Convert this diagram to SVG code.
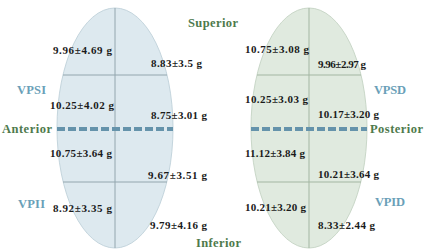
<svg xmlns="http://www.w3.org/2000/svg" width="425" height="252" viewBox="0 0 425 252">
<style>
.num{font-family:"Liberation Serif","DejaVu Serif",serif;font-weight:bold;font-size:11px;fill:#1a1a1a}
.dir{font-family:"Liberation Serif","DejaVu Serif",serif;font-weight:bold;font-size:12.5px;fill:#4e7a4c}
.reg{font-family:"Liberation Serif","DejaVu Serif",serif;font-weight:bold;font-size:12.5px;fill:#6a9fb8}
.divL{stroke:#93a6ae;stroke-width:1;fill:none}
.divR{stroke:#a3b6a2;stroke-width:1;fill:none}
.dash{stroke:#6593ab;stroke-width:4;stroke-dasharray:8 3;fill:none}
</style>
<rect width="425" height="252" fill="#ffffff"/>
<g id="left-heart">
<ellipse cx="115" cy="128" rx="58" ry="120" fill="#dde9ef" stroke="#c4d5dd" stroke-width="1"/>
<line class="divL" x1="115" y1="8" x2="115" y2="248"/>
<line class="divL" x1="63" y1="75" x2="167" y2="75"/>
<line class="divL" x1="63" y1="182" x2="167" y2="182"/>
</g>
<g id="right-heart">
<ellipse cx="309" cy="128" rx="58" ry="120" fill="#e0eadf" stroke="#c9d7c8" stroke-width="1"/>
<line class="divR" x1="309" y1="8" x2="309" y2="248"/>
<line class="divR" x1="257" y1="75" x2="361" y2="75"/>
<line class="divR" x1="257" y1="182" x2="361" y2="182"/>
</g>
<g id="connectors">
<line class="dash" x1="57" y1="129" x2="173" y2="129"/>
<line class="dash" x1="251" y1="129" x2="367" y2="129"/>
</g>
<g id="labels">
<text class="dir" x="188" y="27" textLength="50">Superior</text>
<text class="dir" x="196" y="247" textLength="45">Inferior</text>
<text class="dir" x="2" y="133" textLength="50">Anterior</text>
<text class="dir" x="370" y="133" textLength="53">Posterior</text>
<text class="reg" x="17" y="94" textLength="29">VPSI</text>
<text class="reg" x="18" y="208" textLength="27">VPII</text>
<text class="reg" x="374" y="94" textLength="32">VPSD</text>
<text class="reg" x="375" y="206" textLength="30">VPID</text>
</g>
<g id="left-values">
<text class="num" x="53" y="54" textLength="59">9.96±4.69 g</text>
<text class="num" x="151" y="67" textLength="51">8.83±3.5 g</text>
<text class="num" x="50" y="109" textLength="64">10.25±4.02 g</text>
<text class="num" x="151" y="119" textLength="56">8.75±3.01 g</text>
<text class="num" x="50" y="157" textLength="62">10.75±3.64 g</text>
<text class="num" x="148" y="179" textLength="59">9.67±3.51 g</text>
<text class="num" x="53" y="212" textLength="59">8.92±3.35 g</text>
<text class="num" x="150" y="229" textLength="57">9.79±4.16 g</text>
</g>
<g id="right-values">
<text class="num" x="245" y="53" textLength="64">10.75±3.08 g</text>
<text class="num" x="318" y="68" textLength="48">9.96±2.97 g</text>
<text class="num" x="245" y="103" textLength="63">10.25±3.03 g</text>
<text class="num" x="318" y="118" textLength="61">10.17±3.20 g</text>
<text class="num" x="245" y="157" textLength="60">11.12±3.84 g</text>
<text class="num" x="318" y="178" textLength="61">10.21±3.64 g</text>
<text class="num" x="245" y="211" textLength="61">10.21±3.20 g</text>
<text class="num" x="318" y="229" textLength="57">8.33±2.44 g</text>
</g>
</svg>
